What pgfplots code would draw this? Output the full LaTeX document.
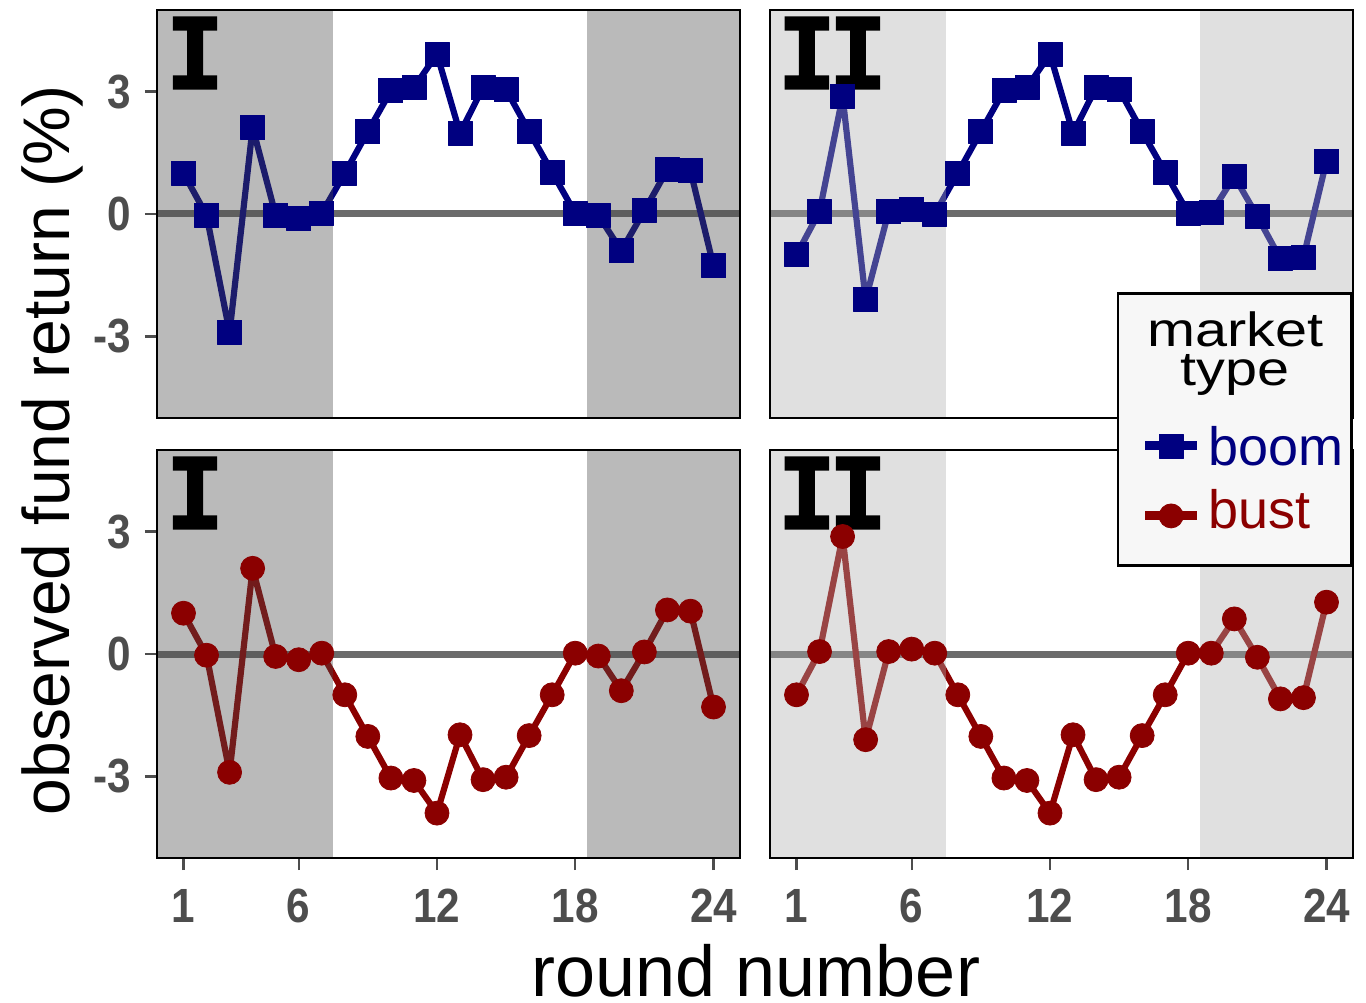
\documentclass[border=0pt]{standalone}
\usepackage{fontspec}
\setmainfont{Liberation Sans}
\newfontfamily\widefont[FakeStretch=1.2]{Liberation Sans}
\newfontfamily\tickfont[FakeStretch=0.88]{Liberation Sans}
\newfontfamily\panelfont[BoldFeatures={FakeBold=1.8}]{DejaVu Sans Mono}
\usepackage{pgfplots}
\usepackage{pgfplotstable}
\pgfplotsset{compat=1.18}

\definecolor{boomc}{HTML}{000080}
\definecolor{bustc}{HTML}{8B0000}
\definecolor{zeroc}{HTML}{6B6B6B}
\definecolor{shadeI}{gray}{0.29}
\definecolor{shadeII}{gray}{0.69}
\definecolor{tickc}{HTML}{4D4D4D}
\definecolor{legbg}{HTML}{F7F7F7}

\pgfplotstableread{
x boomI bustI boomII bustII
1 1.00 1.00 -1.00 -1.00
2 -0.03 -0.03 0.06 0.06
3 -2.90 -2.90 2.88 2.88
4 2.12 2.10 -2.10 -2.10
5 -0.03 -0.06 0.06 0.06
6 -0.12 -0.14 0.12 0.12
7 0.02 0.02 0.00 0.02
8 1.00 -1.00 1.00 -1.00
9 2.02 -2.02 2.02 -2.02
10 3.02 -3.04 3.02 -3.04
11 3.10 -3.10 3.10 -3.10
12 3.92 -3.90 3.92 -3.90
13 1.98 -1.98 1.98 -1.98
14 3.10 -3.08 3.10 -3.08
15 3.05 -3.02 3.05 -3.02
16 2.02 -2.00 2.02 -2.00
17 1.02 -1.00 1.02 -1.00
18 0.02 0.02 0.02 0.02
19 -0.03 -0.05 0.03 0.02
20 -0.90 -0.90 0.92 0.86
21 0.08 0.05 -0.06 -0.08
22 1.09 1.08 -1.10 -1.10
23 1.06 1.05 -1.06 -1.07
24 -1.27 -1.30 1.30 1.27
}\data

\pgfplotsset{
  panel/.style={
    scale only axis, width=291.5pt, height=204pt,
    xmin=-0.15, xmax=25.15, ymin=-5, ymax=5,
    axis on top,
    axis line style={black, line width=1.3pt},
    tick style={tickc, line width=1.2pt},
    major tick length=6pt, tick align=outside,
    xtick={1,6,12,18,24}, xticklabels={1,6,12,18,24},
    ytick={-3,0,3}, yticklabels={-3,0,3},
    tick label style={font=\tickfont\fontsize{24}{24}\selectfont\bfseries, text=tickc},
    yticklabel style={xshift=-3.5pt},
    xticklabel style={yshift=-6pt},
    xtick pos=bottom, ytick pos=left,
  },
  noxt/.style={xtick=\empty},
  noyt/.style={ytick=\empty},
  boomline/.style={boomc, line width=3.1pt, line join=round, mark=square*, mark size=6pt, mark options={solid, line width=0.4pt}},
  bustline/.style={bustc, line width=3.1pt, line join=round, mark=*, mark size=6pt, mark options={solid, line width=0.4pt}},
}

\newcommand{\zeroline}{\addplot[zeroc, line width=3.5pt, forget plot] coordinates {(-0.15,0) (25.15,0)};}
\newcommand{\shadeI}{%
  \addplot[fill=shadeI, fill opacity=0.38, draw=none, forget plot] coordinates {(-0.15,-5) (7.5,-5) (7.5,5) (-0.15,5)} -- cycle;
  \addplot[fill=shadeI, fill opacity=0.38, draw=none, forget plot] coordinates {(18.5,-5) (25.15,-5) (25.15,5) (18.5,5)} -- cycle;}
\newcommand{\shadeII}{%
  \addplot[fill=shadeII, fill opacity=0.39, draw=none, forget plot] coordinates {(-0.15,-5) (7.5,-5) (7.5,5) (-0.15,5)} -- cycle;
  \addplot[fill=shadeII, fill opacity=0.39, draw=none, forget plot] coordinates {(18.5,-5) (25.15,-5) (25.15,5) (18.5,5)} -- cycle;}
\newcommand{\plabelI}{\node[anchor=north west, inner sep=0pt] at (rel axis cs:0.014,0.983) {\panelfont\bfseries\fontsize{49}{49}\selectfont I};}
\newcommand{\plabelII}{\node[anchor=north west, inner sep=0pt] at (rel axis cs:0.012,0.983) {\panelfont\bfseries\fontsize{49}{49}\selectfont I\kern-4pt I};}

\begin{document}
\begin{tikzpicture}
\useasboundingbox (0,0) rectangle (683pt,501pt);

% top-left: boom, I
\begin{axis}[panel, noxt, at={(78.5pt,292pt)}, anchor=south west]
\zeroline
\addplot[boomline, forget plot] table[x=x, y=boomI] {\data};
\shadeI
\plabelI
\end{axis}

% top-right: boom, II
\begin{axis}[panel, noxt, noyt, at={(385pt,292pt)}, anchor=south west]
\zeroline
\addplot[boomline, forget plot] table[x=x, y=boomII] {\data};
\shadeII
\plabelII
\end{axis}

% bottom-left: bust, I
\begin{axis}[panel, at={(78.5pt,72pt)}, anchor=south west]
\zeroline
\addplot[bustline, forget plot] table[x=x, y=bustI] {\data};
\shadeI
\plabelI
\end{axis}

% bottom-right: bust, II (with legend)
\begin{axis}[panel, noyt, at={(385pt,72pt)}, anchor=south west,
  legend style={at={(rel axis cs:1.0,1.387)}, anchor=north east,
    fill=legbg, draw=black, line width=1.3pt, inner xsep=4pt, inner ysep=8pt,
    font=\fontsize{27}{27}\selectfont, row sep=8pt, column sep=3.5pt,
    nodes={inner sep=0pt}},
  legend cell align=left,
  legend image code/.code={%
    \path (-8pt,1.5pt);
    \draw[#1, line width=4.5pt] (0pt,1.5pt) -- (26pt,1.5pt);
    \draw[#1, only marks, mark options={solid, line width=0.4pt}] plot coordinates {(13pt,1.5pt)};}
]
\addlegendimage{empty legend}
\addlegendentry[text height=38pt, text depth=12pt]{\makebox[0pt][l]{\hspace*{-33.25pt}\begin{minipage}[b]{92pt}\centering\widefont\fontsize{24}{19.5}\selectfont market\\type\end{minipage}}}
\addlegendimage{boomline}
\addlegendentry[text height=20pt, text depth=3.5pt]{\textcolor{boomc}{boom}}
\zeroline
\addplot[bustline] table[x=x, y=bustII] {\data};
\addlegendentry[text height=20pt, text depth=10.5pt]{\textcolor{bustc}{bust}}
\shadeII
\plabelII
\end{axis}

\node[rotate=90] at (26pt,276pt) {\fontsize{33}{33}\selectfont observed fund return (\%)};
\node[anchor=base, inner sep=0pt] at (378pt,3pt) {\fontsize{36}{36}\selectfont round number};
\end{tikzpicture}
\end{document}
